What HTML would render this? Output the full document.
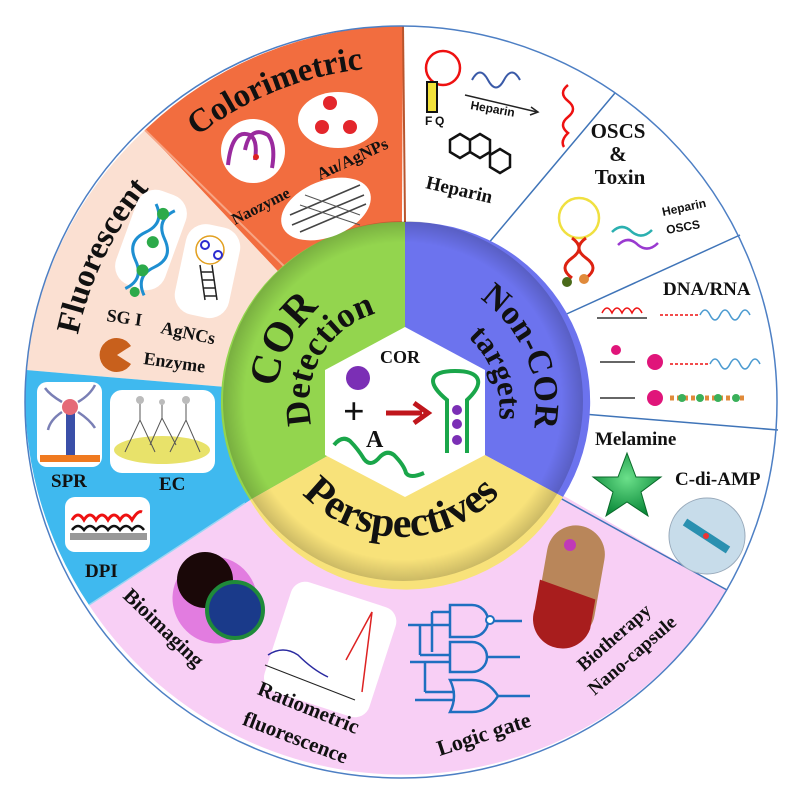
<!DOCTYPE html>
<html><head><meta charset="utf-8"><style>
html,body{margin:0;padding:0;background:#fff;}
svg{display:block;}
text{font-family:"Liberation Serif",serif;font-weight:bold;fill:#111;}
.s{font-family:"Liberation Sans",sans-serif;}
</style></head><body>
<svg width="799" height="802" viewBox="0 0 799 802" xmlns="http://www.w3.org/2000/svg">
<defs>
<path id="pCol" d="M144.4,186.6 A335,335 0 0 1 436,68.8"/>
<path id="pFlu" d="M71.2,413.5 A330,330 0 0 1 207,135"/>
<path id="pCOR" d="M276.1,406.4 A125,125 0 0 1 334.8,296"/>
<path id="pDet" d="M325.6,454.8 A92,92 0 0 1 409,310.4"/>
<path id="pNon" d="M469,292 A130,130 0 0 1 531,440"/>
<path id="pTar" d="M436,318 A97,97 0 0 1 488,455"/>
<path id="pPer" d="M284.1,469.5 A135,135 0 0 0 517.9,469.5"/>
<radialGradient id="rim" cx="50%" cy="50%" r="50%">
<stop offset="88%" stop-color="#000" stop-opacity="0"/>
<stop offset="100%" stop-color="#000" stop-opacity="0.18"/>
</radialGradient>
<radialGradient id="star" cx="50%" cy="40%" r="60%"><stop offset="0" stop-color="#6be08a"/><stop offset="1" stop-color="#0b8a3a"/></radialGradient>
</defs>

<circle cx="401" cy="402" r="376" fill="#fff"/>
<path d="M401,402 L145,130 A376,376 0 0 1 403,26 Z" fill="#f26d3f"/>
<path d="M401,402 L26,370 A376,376 0 0 1 145,130 Z" fill="#fbe0d2"/>
<path d="M401,402 L89,605 A376,376 0 0 1 26,370 Z" fill="#3fb9ef"/>
<path d="M401,402 L727,590 A376,376 0 0 1 89,605 Z" fill="#f8cff5"/>
<line x1="145" y1="130" x2="290" y2="272" stroke="#f7a585" stroke-width="2"/>
<line x1="403" y1="26" x2="405" y2="222" stroke="#b9552d" stroke-width="2"/>
<g stroke="#3f74b8" stroke-width="1.5" fill="none">
<line x1="487" y1="245" x2="615" y2="93"/>
<line x1="560" y1="317" x2="740" y2="235"/>
<line x1="583" y1="414" x2="778" y2="430"/>
<line x1="560" y1="498" x2="727" y2="590"/>
<line x1="89" y1="605" x2="245" y2="503" stroke="#9bd6f3"/>
</g>
<circle cx="401" cy="402" r="376" fill="none" stroke="#4d7fc4" stroke-width="1.5"/>

<path d="M405,412 L405,222 A180,180 0 0 0 250,500 Z" fill="#93d54e"/>
<path d="M405,412 L405,222 A180,180 0 0 1 563,497 Z" fill="#6c73ee"/>
<path d="M405,412 L250,500 A180,180 0 0 0 563,497 Z" fill="#f8e27a"/>
<circle cx="403" cy="401" r="180" fill="url(#rim)"/>
<polygon points="405,327 485,370 485,455 405,497 325,455 325,370" fill="#fff"/>

<text x="380" y="363" font-size="18">COR</text>
<circle cx="358" cy="378" r="12" fill="#7b2fb5"/>
<text x="343" y="424" font-size="38" font-weight="normal">+</text>
<text x="366" y="447" font-size="24">A</text>
<path d="M334,445 q8,-10 16,-4 q8,8 14,18 q6,8 14,0 q8,-10 16,-4 q10,10 12,18 q4,6 18,0" fill="none" stroke="#1aa64a" stroke-width="4"/>
<path d="M386,413 L422,413" stroke="#c0161c" stroke-width="5"/>
<path d="M414,403 L428,413 L414,423" fill="none" stroke="#c0161c" stroke-width="5"/>
<path d="M447,453 V400 C425,382 430,371 455,371 C480,371 486,382 467,400 V453" fill="none" stroke="#1aa64a" stroke-width="4"/>
<circle cx="457" cy="410" r="5" fill="#7b2fb5"/><circle cx="457" cy="424" r="5" fill="#7b2fb5"/><circle cx="457" cy="440" r="5" fill="#7b2fb5"/>

<text font-size="42"><textPath href="#pCOR" startOffset="50%" text-anchor="middle">COR</textPath></text>
<text font-size="35"><textPath href="#pDet" startOffset="50%" text-anchor="middle">Detection</textPath></text>
<text font-size="34"><textPath href="#pNon" startOffset="50%" text-anchor="middle">Non-COR</textPath></text>
<text font-size="31"><textPath href="#pTar" startOffset="50%" text-anchor="middle">targets</textPath></text>
<text font-size="42"><textPath href="#pPer" startOffset="50%" text-anchor="middle">Perspectives</textPath></text>

<text font-size="33"><textPath href="#pCol" startOffset="50%" text-anchor="middle">Colorimetric</textPath></text>
<text font-size="33"><textPath href="#pFlu" startOffset="50%" text-anchor="middle">Fluorescent</textPath></text>

<circle cx="253" cy="151" r="32" fill="#fff"/>
<path d="M228,165 Q232,128 250,135 Q258,140 255,160 M245,150 Q250,125 268,135 Q276,145 272,168" fill="none" stroke="#9a2a9e" stroke-width="4"/>
<circle cx="256" cy="157" r="3" fill="#d22"/>
<ellipse cx="338" cy="120" rx="40" ry="28" fill="#fff"/>
<circle cx="330" cy="103" r="7" fill="#e3262c"/><circle cx="322" cy="127" r="7" fill="#e3262c"/><circle cx="350" cy="127" r="7" fill="#e3262c"/>
<ellipse cx="326" cy="209" rx="47" ry="28" fill="#fff" transform="rotate(-22 326 209)"/>
<path d="M290,215 l70,-30 M292,225 l72,-30 M300,232 l66,-28" stroke="#444" stroke-width="1.5"/>
<path d="M300,205 l60,20 M305,195 l55,20" stroke="#555" stroke-width="1"/>
<text x="0" y="0" font-size="16" transform="translate(235,225) rotate(-27)">Naozyme</text>
<text x="0" y="0" font-size="17" transform="translate(320,180) rotate(-25)">Au/AgNPs</text>

<rect x="125" y="190" width="52" height="100" rx="20" fill="#fff" transform="rotate(20 151 240)"/>
<path d="M140,205 q15,15 0,30 q-15,15 0,30 q15,15 0,30 M160,205 q-15,15 0,30 q15,15 0,30 q-15,15 0,30" fill="none" stroke="#1e8fd1" stroke-width="3" transform="rotate(20 151 250)"/>
<g fill="#2caa4a" transform="rotate(20 151 250)"><circle cx="150" cy="212" r="6"/><circle cx="150" cy="242" r="6"/><circle cx="150" cy="272" r="6"/><circle cx="150" cy="295" r="5"/></g>
<rect x="180" y="225" width="55" height="92" rx="20" fill="#fff" transform="rotate(12 207 271)"/>
<circle cx="210" cy="250" r="14" fill="none" stroke="#e2a020" stroke-width="1.5"/>
<circle cx="205" cy="245" r="4" fill="none" stroke="#2b2bd0" stroke-width="2"/><circle cx="218" cy="255" r="4" fill="none" stroke="#2b2bd0" stroke-width="2"/>
<path d="M200,265 L205,300 M212,265 L217,300 M201,272 h12 M202,280 h12 M203,288 h12 M204,296 h12" stroke="#222" stroke-width="1.5"/>
<text font-size="18" transform="translate(106,321) rotate(8)">SG I</text>
<text font-size="18" transform="translate(160,333) rotate(12)">AgNCs</text>
<text font-size="18" transform="translate(143,364) rotate(8)">Enzyme</text>
<path d="M117,355 L131,346 A17,17 0 1 0 131,364 Z" fill="#c8601c"/>

<rect x="37" y="382" width="65" height="85" rx="10" fill="#fff"/>
<rect x="40" y="455" width="60" height="7" fill="#f07a20"/>
<rect x="66" y="410" width="9" height="45" fill="#3a4fa8"/>
<circle cx="70" cy="407" r="8" fill="#e56a78"/>
<path d="M62,402 Q50,395 45,388 M78,402 Q90,395 95,385 M62,412 Q50,420 48,430 M78,412 Q90,420 95,428" stroke="#7a7fb5" stroke-width="2.5" fill="none"/>
<rect x="110" y="390" width="105" height="83" rx="12" fill="#fff"/>
<ellipse cx="162" cy="450" rx="48" ry="14" fill="#e8e26a"/>
<path d="M125,452 L140,420 L155,452 M140,420 L140,402 M150,445 L162,418 L176,445 M162,418 L162,404 M170,452 L186,420 L200,452 M186,420 L186,402" stroke="#555" stroke-width="1" fill="none"/>
<circle cx="140" cy="400" r="4" fill="#bbb"/><circle cx="162" cy="402" r="3" fill="#bbb"/><circle cx="186" cy="400" r="4" fill="#bbb"/>
<rect x="65" y="497" width="85" height="55" rx="10" fill="#fff"/>
<rect x="70" y="533" width="77" height="7" fill="#999"/>
<path d="M72,520 q6,-10 12,0 q6,-10 12,0 q6,-10 12,0 q6,-10 12,0 q6,-10 12,0 q6,-10 10,-8" stroke="#e11" stroke-width="3" fill="none"/>
<path d="M72,530 q6,-8 12,0 q6,-8 12,0 q6,-8 12,0 q6,-8 12,0 q6,-8 12,0 q6,-8 12,0" stroke="#111" stroke-width="2.5" fill="none"/>
<text x="51" y="487" font-size="19">SPR</text>
<text x="159" y="490" font-size="19">EC</text>
<text x="85" y="577" font-size="19">DPI</text>

<ellipse cx="215" cy="600" rx="42" ry="44" fill="#e27ce0" transform="rotate(-30 215 600)"/>
<circle cx="205" cy="580" r="28" fill="#1a0808"/>
<circle cx="235" cy="610" r="28" fill="#1a3a8a" stroke="#1f8a3a" stroke-width="4"/>
<rect x="275" y="592" width="110" height="115" rx="15" fill="#fff" transform="rotate(18 330 650)"/>
<path d="M268,655 q15,-10 30,0 q15,15 30,22" stroke="#2a2aa0" stroke-width="1.5" fill="none"/>
<path d="M265,665 L355,700" stroke="#222" stroke-width="1"/>
<path d="M346,660 L372,612 L362,692" stroke="#d22" stroke-width="1.5" fill="none"/>
<g stroke="#1f6fc0" stroke-width="2.5" fill="none">
<path d="M450,605 h22 a16,16 0 0 1 0,32 h-22 z M450,642 h22 a15,15 0 0 1 0,30 h-22 z M450,680 h22 q16,0 26,16 q-10,16 -26,16 h-22 q8,-16 0,-32 z"/>
<path d="M408,625 h42 M420,625 v30 M420,655 h30 M410,662 h40 M425,662 v30 M425,692 h30 M415,700 h40 M490,621 h32 M488,657 h32 M498,696 h32 M432,612 h18 M432,612 v40"/>
</g>
<circle cx="490" cy="620" r="4" fill="#fff" stroke="#1f6fc0" stroke-width="2"/>
<rect x="542" y="525" width="58" height="115" rx="29" fill="#b9865a" transform="rotate(10 571 582)"/>
<path d="M540,585 v30 a29,29 0 0 0 58,10 v-30 z" fill="#a81d1d" transform="rotate(10 571 582)"/>
<circle cx="570" cy="545" r="6" fill="#c03ab8"/>
<text font-size="21" transform="translate(122,597) rotate(44)">Bioimaging</text>
<text font-size="21" text-anchor="middle" transform="translate(306,714) rotate(22)">Ratiometric</text>
<text font-size="21" text-anchor="middle" transform="translate(293,744) rotate(21)">fluorescence</text>
<text font-size="22" text-anchor="middle" transform="translate(486,741) rotate(-18)">Logic gate</text>
<text font-size="19" text-anchor="middle" transform="translate(618,642) rotate(-41)">Biotherapy</text>
<text font-size="19" text-anchor="middle" transform="translate(636,660) rotate(-41)">Nano-capsule</text>

<circle cx="443" cy="68" r="17" fill="none" stroke="#e11" stroke-width="2.5"/>
<rect x="427" y="82" width="10" height="30" fill="#f2e13a" stroke="#111" stroke-width="2"/>
<text class="s" x="425" y="125" font-size="12" fill="#2a9a3a">F</text><text class="s" x="435" y="125" font-size="12" fill="#7a2aa0">Q</text>
<path d="M472,80 q8,-15 16,0 q8,15 16,0 q8,-15 16,0" stroke="#3a5aa8" stroke-width="2" fill="none"/>
<path d="M465,95 L537,112" stroke="#222" stroke-width="1.5"/><path d="M531,107 L538,112 L530,115" stroke="#222" fill="none" stroke-width="1.5"/>
<text class="s" font-size="12" transform="translate(470,109) rotate(10)">Heparin</text>
<path d="M568,85 q-10,8 0,16 q10,8 0,16 q-10,8 0,16 q-8,8 -4,14" stroke="#e11" stroke-width="2.5" fill="none"/>
<path d="M450,140 l10,-6 l10,6 v12 l-10,6 l-10,-6 z M470,140 l10,-6 l10,6 v12 l-10,6 l-10,-6 z M490,155 l10,-6 l10,6 v12 l-10,6 l-10,-6 z" fill="none" stroke="#111" stroke-width="2.5"/>
<text font-size="19" transform="translate(425,188) rotate(13)">Heparin</text>
<text x="618" y="138" font-size="21" text-anchor="middle">OSCS</text>
<text x="618" y="161" font-size="21" text-anchor="middle">&amp;</text>
<text x="620" y="184" font-size="21" text-anchor="middle">Toxin</text>
<circle cx="579" cy="218" r="20" fill="none" stroke="#f0e040" stroke-width="2.5"/>
<path d="M572,238 q14,10 0,20 q-14,10 0,20 M586,238 q-14,10 0,20 q14,10 0,20" stroke="#d21" stroke-width="3" fill="none"/>
<circle cx="567" cy="282" r="5" fill="#4a6a1a"/><circle cx="584" cy="279" r="5" fill="#e08a3a"/>
<path d="M612,232 q10,-10 20,0 q10,8 20,-2" stroke="#2bb0b0" stroke-width="2.5" fill="none"/>
<path d="M618,245 q10,-10 20,0 q10,8 20,-2" stroke="#9a3ad0" stroke-width="2.5" fill="none"/>
<text class="s" font-size="12" transform="translate(663,216) rotate(-12)">Heparin</text>
<text class="s" font-size="12" transform="translate(667,234) rotate(-10)">OSCS</text>
<text x="663" y="295" font-size="19">DNA/RNA</text>
<g fill="none" stroke-width="1.5">
<path d="M602,313 q5,-10 10,0 q5,-10 10,0 q5,-10 10,0 q5,-10 10,0" stroke="#e11"/>
<path d="M597,318 h50" stroke="#333"/>
<path d="M660,315 h40" stroke="#e11" stroke-dasharray="3 2"/>
<path d="M700,315 q5,-10 10,0 q5,10 10,0 q5,-10 10,0 q5,10 10,0 q5,-10 10,0" stroke="#4a9ad0"/>
<path d="M600,362 h35" stroke="#333"/>
<path d="M670,364 h40" stroke="#e11" stroke-dasharray="3 2"/>
<path d="M710,364 q5,-10 10,0 q5,10 10,0 q5,-10 10,0 q5,10 10,0 q5,-10 10,0" stroke="#4a9ad0"/>
<path d="M600,398 h35" stroke="#333"/>
<path d="M670,398 h75" stroke="#e08a3a" stroke-width="5" stroke-dasharray="4 3"/>
</g>
<circle cx="616" cy="350" r="5" fill="#e0157a"/><circle cx="655" cy="362" r="8" fill="#e0157a"/><circle cx="655" cy="398" r="8" fill="#e0157a"/>
<g fill="#3ab05a"><circle cx="682" cy="398" r="4"/><circle cx="700" cy="398" r="4"/><circle cx="718" cy="398" r="4"/><circle cx="736" cy="398" r="4"/></g>
<text x="595" y="445" font-size="19">Melamine</text>
<polygon points="627,453 636,477 661,477 641,492 648,516 627,502 606,516 613,492 593,477 618,477" fill="url(#star)" stroke="#0a6a2a" stroke-width="1"/>
<text x="675" y="485" font-size="19">C-di-AMP</text>
<circle cx="707" cy="536" r="38" fill="#c7dcea" stroke="#9ab" stroke-width="1"/>
<path d="M685,522 L728,550" stroke="#2a90b0" stroke-width="8"/>
<circle cx="706" cy="536" r="3" fill="#e33"/>
</svg>
</body></html>
